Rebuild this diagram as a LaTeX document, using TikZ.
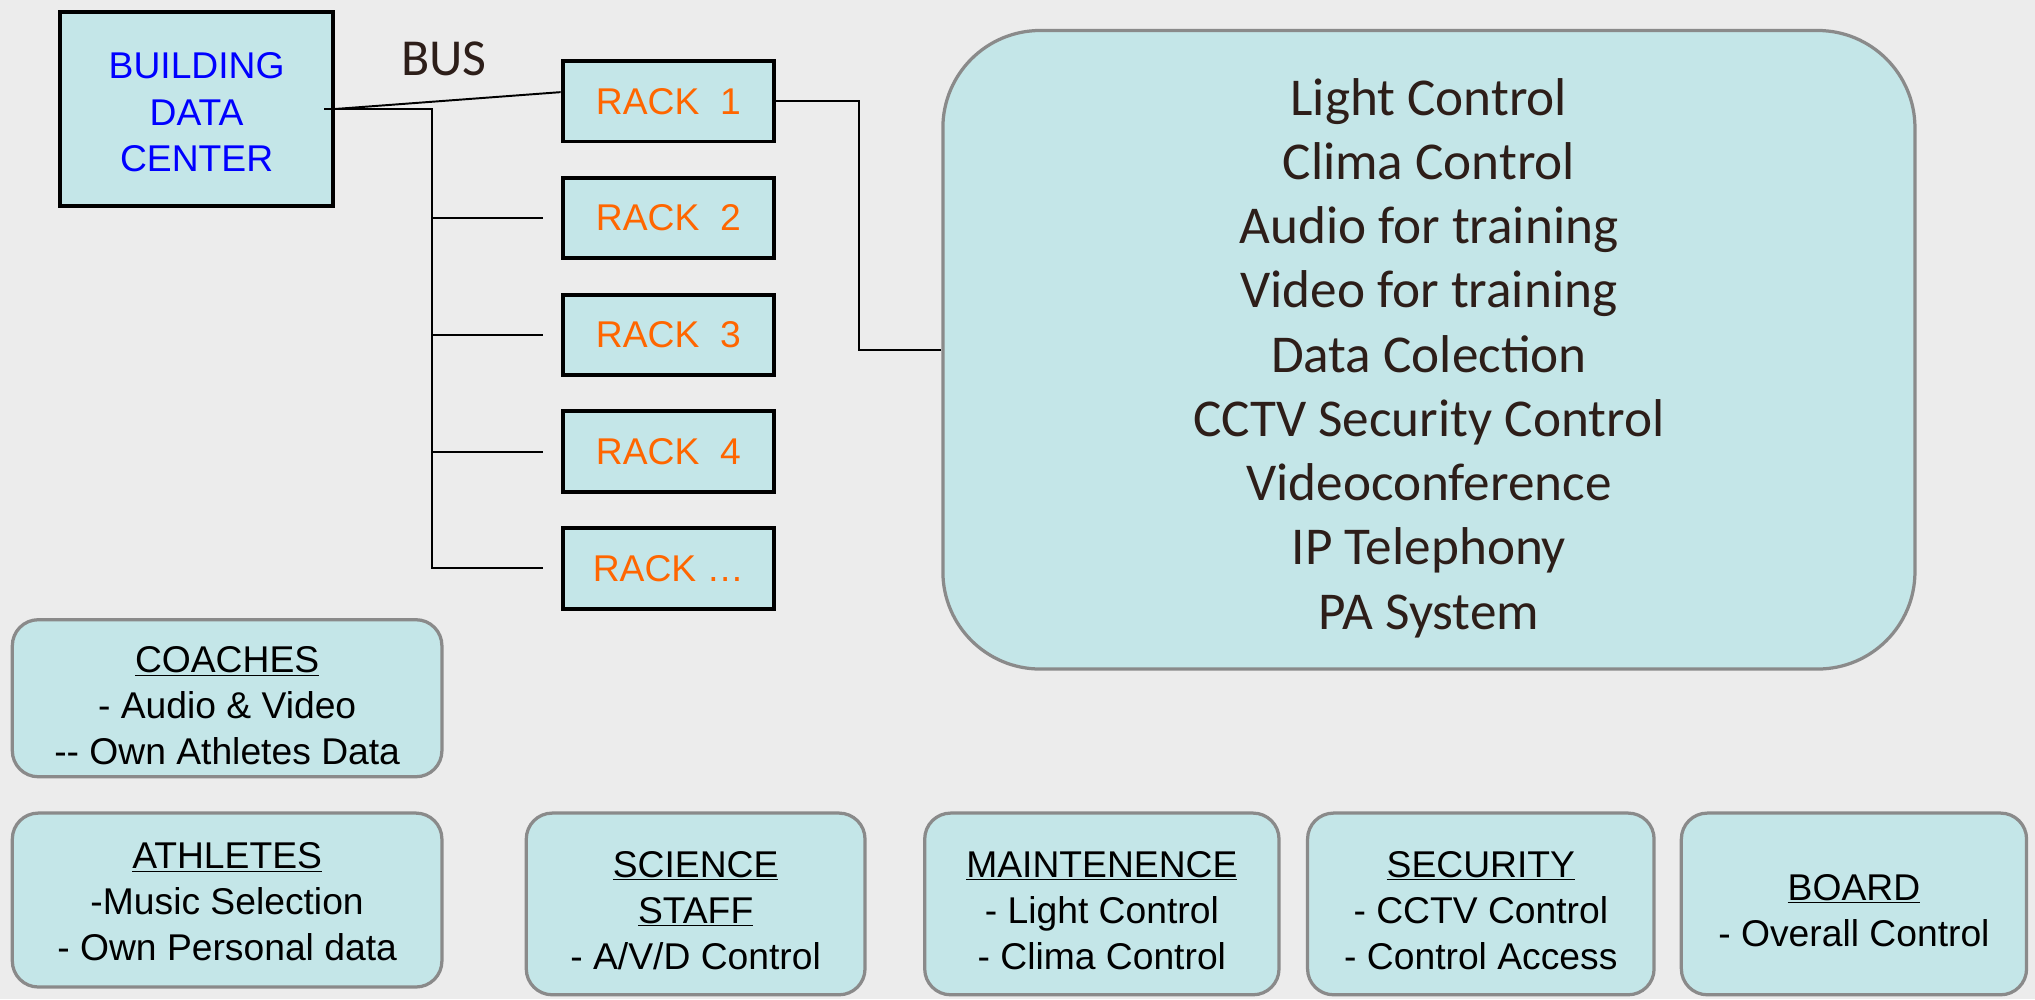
\documentclass[tikz,border=0pt]{standalone}
\usepackage{fontspec}
\setmainfont{Liberation Sans}
\newfontfamily\calibri{Carlito}
\usepackage{xcolor}
\usetikzlibrary{positioning,calc}
\definecolor{boxfill}{RGB}{196,230,232}
\definecolor{bggray}{RGB}{236,236,236}
\definecolor{edgegray}{RGB}{138,138,138}
\definecolor{rackorange}{RGB}{255,102,0}
\definecolor{textbrown}{RGB}{45,30,25}

\begin{document}
\begin{tikzpicture}[x=1pt, y=-1pt,
  hw/.style={rectangle, draw=black, line width=3pt, fill=boxfill, align=center,
             inner sep=0pt, font=\fontsize{28.7}{35.5}\selectfont},
  rack/.style={hw, minimum width=163pt, minimum height=62pt, text=rackorange},
  group/.style={rectangle, draw=edgegray, line width=2.5pt, fill=boxfill, rounded corners=20pt,
                align=center, inner sep=0pt, text height=101pt,
                font=\fontsize{28.7}{35.5}\selectfont},
  bus/.style={line width=1.5pt},
]
  % Background
  \fill[bggray] (0,0) rectangle (1568,770);

  % Data center and racks
  \node[hw, minimum width=210pt, minimum height=149pt, text=blue, text height=96pt] (bdc) at (151.5,84)
    {BUILDING\\DATA\\CENTER};
  \node[font=\calibri\fontsize{40}{48}\selectfont, text=textbrown] (bus) at (342,45) {BUS};
  \foreach \i/\lbl in {1/~1, 2/~2, 3/~3, 4/~4, 5/…}
    \node[rack] (rack\i) at (515, 90*\i-12) {RACK~\lbl};

  % Services
  \node[group, rounded corners=75pt, minimum width=749pt, minimum height=492pt, text height=437pt,
        font=\calibri\fontsize{41}{49.5}\selectfont, text=textbrown] (services) at (1101,269.5)
    {Light Control\\Clima Control\\Audio for training\\Video for training\\Data Colection\\
     CCTV Security Control\\Videoconference\\IP Telephony\\PA System};

  % User groups
  \node[group, minimum width=331pt, minimum height=121pt, text height=103pt] (coaches) at (175,538)
    {\underline{COACHES}\\- Audio \& Video\\-{}- Own Athletes Data};
  \node[group, minimum width=331pt, minimum height=134pt, text height=94pt] (athletes) at (175,693.5)
    {\underline{ATHLETES}\\-Music Selection\\- Own Personal data};
  \node[group, minimum width=261pt, minimum height=140pt] (science) at (536,696.5)
    {\underline{SCIENCE}\\\underline{STAFF}\\- A/V/D Control};
  \node[group, minimum width=273pt, minimum height=140pt] (maint) at (849,696.5)
    {\underline{MAINTENENCE}\\- Light Control\\- Clima Control};
  \node[group, minimum width=267pt, minimum height=140pt] (security) at (1141,696.5)
    {\underline{SECURITY}\\- CCTV Control\\- Control Access};
  \node[group, minimum width=266pt, minimum height=140pt, text height=66pt] (board) at (1428.5,696.5)
    {\underline{BOARD}\\- Overall Control};

  % Bus lines
  \coordinate (spine) at (333,0);
  \draw[bus] ([xshift=-8pt]bdc.east) -| (spine |- rack5.west) -- ([xshift=-14pt]rack5.west);
  \foreach \i in {2,3,4}
    \draw[bus] (spine |- rack\i.west) -- ([xshift=-14pt]rack\i.west);
  \draw[bus] (bdc.east) -- ([yshift=7pt]rack1.west);
  \draw[line width=1.2pt] (rack1.east) -- ++(64,0) |- (services.west);
\end{tikzpicture}
\end{document}
